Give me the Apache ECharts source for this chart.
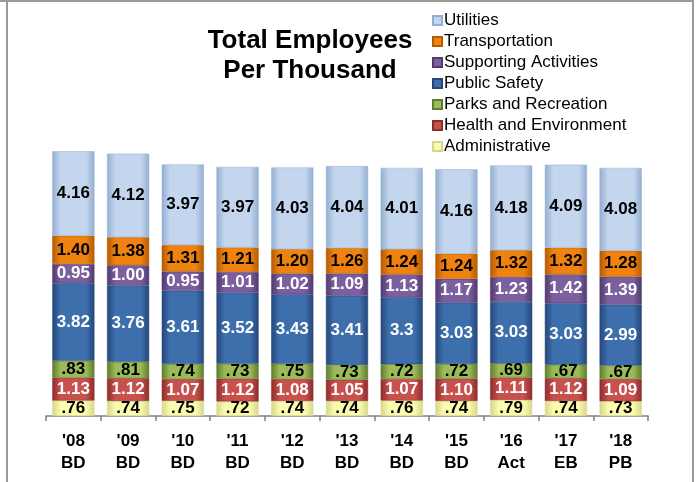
<!DOCTYPE html>
<html style="height: 100%">
<head>
    <meta charset="UTF-8">
    <title>Total Employees Per Thousand</title>
    <script src="https://cdn.jsdelivr.net/npm/echarts@6/dist/echarts.min.js"></script>
</head>
<body style="height: 100%; margin: 0; background: #fff">
    <div id="main" style="width: 699px; height: 482px"></div>
    <script type="text/javascript">
        var categories = ["'08\nBD", "'09\nBD", "'10\nBD", "'11\nBD", "'12\nBD", "'13\nBD", "'14\nBD", "'15\nBD", "'16\nAct", "'17\nEB", "'18\nPB"];
        var administrative = [0.76, 0.74, 0.75, 0.72, 0.74, 0.74, 0.76, 0.74, 0.79, 0.74, 0.73];
        var health = [1.13, 1.12, 1.07, 1.12, 1.08, 1.05, 1.07, 1.10, 1.11, 1.12, 1.09];
        var parks = [0.83, 0.81, 0.74, 0.73, 0.75, 0.73, 0.72, 0.72, 0.69, 0.67, 0.67];
        var publicSafety = [3.82, 3.76, 3.61, 3.52, 3.43, 3.41, 3.3, 3.03, 3.03, 3.03, 2.99];
        var supporting = [0.95, 1.00, 0.95, 1.01, 1.02, 1.09, 1.13, 1.17, 1.23, 1.42, 1.39];
        var transportation = [1.40, 1.38, 1.31, 1.21, 1.20, 1.26, 1.24, 1.24, 1.32, 1.32, 1.28];
        var utilities = [4.16, 4.12, 3.97, 3.97, 4.03, 4.04, 4.01, 4.16, 4.18, 4.09, 4.08];
        var totals = [13.04, 12.93, 12.40, 12.29, 12.25, 12.31, 12.24, 12.16, 12.36, 12.39, 12.22];

        var myChart = echarts.init(document.getElementById('main'));

        function grad(light, dark) {
            return new echarts.graphic.LinearGradient(0, 0, 1, 0, [
                {offset: 0, color: dark},
                {offset: 0.2, color: light},
                {offset: 0.8, color: light},
                {offset: 1, color: dark}
            ]);
        }

        function fmt2(p) { return p.value.toFixed(2); }
        function fmtShort(p) { return p.value.toFixed(2).replace(/^0/, ''); }
        function fmtPlain(p) { return String(p.value); }

        function seg(name, data, light, dark, textColor, formatter) {
            return {
                name: name,
                type: 'bar',
                stack: 'total',
                barWidth: '77%',
                data: data,
                itemStyle: {color: grad(light, dark), borderColor: dark, borderWidth: 0.5},
                label: {
                    show: true,
                    position: 'inside',
                    color: textColor,
                    fontFamily: 'Liberation Sans',
                    fontWeight: 'bold',
                    fontSize: 17,
                    formatter: formatter
                }
            };
        }

        myChart.setOption({
            animation: false,
            title: {
                text: 'Total Employees\nPer Thousand',
                left: 305,
                textAlign: 'center',
                top: 21,
                textStyle: {
                    fontFamily: 'Liberation Sans',
                    fontWeight: 'bold',
                    fontSize: 26,
                    lineHeight: 30,
                    color: '#000'
                }
            },
            legend: {
                orient: 'vertical',
                left: 427,
                top: 7,
                itemWidth: 9,
                itemHeight: 9,
                itemGap: 4,
                icon: 'rect',
                data: ['Utilities', 'Transportation', 'Supporting Activities', 'Public Safety',
                       'Parks and Recreation', 'Health and Environment', 'Administrative'],
                textStyle: {fontFamily: 'Liberation Sans', fontSize: 17, color: '#000', padding: [0, 0, 0, -3]}
            },
            grid: {left: 46, right: 51, top: 132, bottom: 66},
            xAxis: {
                type: 'category',
                data: categories,
                axisLine: {lineStyle: {color: '#808080', width: 1.5}},
                axisTick: {show: true, length: 5, lineStyle: {color: '#808080', width: 1.5}},
                axisLabel: {
                    margin: 14,
                    color: '#000',
                    fontFamily: 'Liberation Sans',
                    fontWeight: 'bold',
                    fontSize: 17,
                    lineHeight: 22
                }
            },
            yAxis: {type: 'value', min: 0, max: 14, show: false, splitLine: {show: false}},
            graphic: [
                {type: 'rect', shape: {x: 0, y: 0, width: 694, height: 2}, style: {fill: '#9a9a9a'}},
                {type: 'rect', shape: {x: 6, y: 0, width: 2, height: 482}, style: {fill: '#9a9a9a'}},
                {type: 'rect', shape: {x: 692, y: 0, width: 2, height: 482}, style: {fill: '#9a9a9a'}}
            ],
            series: [
                seg('Administrative', administrative, '#fbfbb0', '#d6d68a', '#000', fmtShort),
                seg('Health and Environment', health, '#c8504d', '#8c2d2b', '#fff', fmt2),
                seg('Parks and Recreation', parks, '#9bbb59', '#5f7a2c', '#000', fmtShort),
                seg('Public Safety', publicSafety, '#3e6fad', '#24477a', '#fff', fmtPlain),
                seg('Supporting Activities', supporting, '#7b5f9e', '#503a6e', '#fff', fmt2),
                seg('Transportation', transportation, '#f0820f', '#b35a05', '#000', fmt2),
                seg('Utilities', utilities, '#c3d6ee', '#93aed0', '#000', fmt2),
                {
                    name: 'Total',
                    type: 'line',
                    data: totals,
                    symbol: 'none',
                    lineStyle: {opacity: 0},
                    label: {
                        show: true,
                        position: 'top',
                        distance: 1,
                        color: '#000',
                        fontFamily: 'Liberation Sans',
                        fontWeight: 'bold',
                        fontSize: 15,
                        formatter: fmt2
                    }
                }
            ]
        });
    </script>
</body>
</html>
